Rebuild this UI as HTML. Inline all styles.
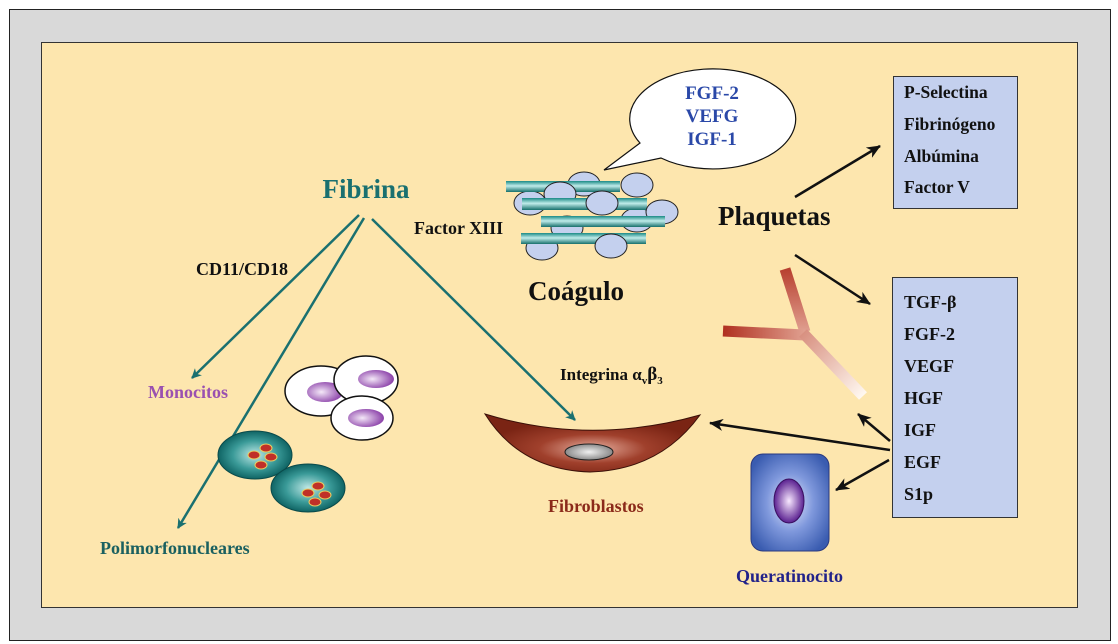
<!DOCTYPE html>
<html><head><meta charset="utf-8"><style>
html,body{margin:0;padding:0;background:#fff;}
svg{display:block;}
text{font-family:"Liberation Serif",serif;font-weight:bold;}
</style></head><body>
<svg width="1118" height="644" viewBox="0 0 1118 644" xmlns="http://www.w3.org/2000/svg">
<defs>
<radialGradient id="pmn" cx="50%" cy="50%" r="50%"><stop offset="0" stop-color="#bfe8e6"/><stop offset="0.6" stop-color="#3a9a98"/><stop offset="1" stop-color="#0f6464"/></radialGradient>
<radialGradient id="nuc" cx="40%" cy="50%" r="60%"><stop offset="0" stop-color="#f4e8f8"/><stop offset="1" stop-color="#8a3fa8"/></radialGradient>
<radialGradient id="fib" cx="50%" cy="60%" r="50%"><stop offset="0" stop-color="#e8b0a0"/><stop offset="0.5" stop-color="#a0402c"/><stop offset="1" stop-color="#7a2414"/></radialGradient>
<radialGradient id="fnuc" cx="50%" cy="50%" r="50%"><stop offset="0" stop-color="#f0f0f0"/><stop offset="1" stop-color="#8a8a8a"/></radialGradient>
<radialGradient id="ker" cx="50%" cy="50%" r="60%"><stop offset="0" stop-color="#e8ecff"/><stop offset="0.5" stop-color="#7f98dc"/><stop offset="1" stop-color="#3a5cb0"/></radialGradient>
<radialGradient id="kn" cx="50%" cy="50%" r="50%"><stop offset="0" stop-color="#f8e8ff"/><stop offset="1" stop-color="#5a2090"/></radialGradient>
<linearGradient id="bar" x1="0" y1="0" x2="0" y2="1"><stop offset="0" stop-color="#1a8a86"/><stop offset="0.45" stop-color="#c0ecea"/><stop offset="1" stop-color="#16706c"/></linearGradient>
<linearGradient id="yarm" x1="0" y1="0" x2="1" y2="0"><stop offset="0" stop-color="#b03020"/><stop offset="1" stop-color="#e0a090"/></linearGradient>
<linearGradient id="ystem" x1="0" y1="0" x2="1" y2="1"><stop offset="0" stop-color="#d89080"/><stop offset="1" stop-color="#fff8f0"/></linearGradient>
<linearGradient id="yup" x1="0" y1="0" x2="0" y2="1"><stop offset="0" stop-color="#b84030"/><stop offset="1" stop-color="#e0a090"/></linearGradient>
<marker id="ta" markerWidth="10" markerHeight="10" refX="9" refY="5" orient="auto" markerUnits="userSpaceOnUse"><path d="M0,0 L10,5 L0,10 L3,5 z" fill="#1a7070"/></marker>
<marker id="ba" markerWidth="14" markerHeight="12" refX="13" refY="6" orient="auto" markerUnits="userSpaceOnUse"><path d="M0,0 L14,6 L0,12 L4,6 z" fill="#111"/></marker>
</defs>
<rect x="9.5" y="9.5" width="1101" height="631" fill="#d9d9d9" stroke="#222"/>
<rect x="41.5" y="42.5" width="1036" height="565" fill="#fde6ae" stroke="#333"/>

<text x="366" y="198" font-size="27" fill="#1a7070" text-anchor="middle">Fibrina</text>
<g stroke="#1a7070" stroke-width="2.5" fill="none">
<line x1="359" y1="215" x2="192" y2="378" marker-end="url(#ta)"/>
<line x1="364" y1="218" x2="178" y2="528" marker-end="url(#ta)"/>
<line x1="372" y1="219" x2="575" y2="420" marker-end="url(#ta)"/>
</g>
<text x="196" y="275" font-size="18" fill="#111">CD11/CD18</text>
<text x="148" y="398" font-size="18" fill="#9a50b0">Monocitos</text>
<text x="100" y="554" font-size="18" fill="#1a6060">Polimorfonucleares</text>
<text x="414" y="234" font-size="18" fill="#111">Factor XIII</text>

<ellipse cx="321" cy="391" rx="36" ry="25" fill="#fff" stroke="#111" stroke-width="1.5"/>
<ellipse cx="325" cy="392" rx="18" ry="10" fill="url(#nuc)"/>
<ellipse cx="366" cy="380" rx="32" ry="24" fill="#fff" stroke="#111" stroke-width="1.5"/>
<ellipse cx="376" cy="379" rx="18" ry="9" fill="url(#nuc)"/>
<ellipse cx="362" cy="418" rx="31" ry="22" fill="#fff" stroke="#111" stroke-width="1.5"/>
<ellipse cx="366" cy="418" rx="18" ry="9" fill="url(#nuc)"/>

<g stroke="#0a4a4a" stroke-width="1">
<ellipse cx="255" cy="455" rx="37" ry="24" fill="url(#pmn)"/>
<ellipse cx="308" cy="488" rx="37" ry="24" fill="url(#pmn)"/>
</g>
<g fill="#c03028" stroke="#e8d060" stroke-width="1">
<ellipse cx="266" cy="448" rx="6" ry="4"/><ellipse cx="254" cy="455" rx="6" ry="4"/><ellipse cx="271" cy="457" rx="6" ry="4"/><ellipse cx="261" cy="465" rx="6" ry="4"/>
<ellipse cx="318" cy="486" rx="6" ry="4"/><ellipse cx="308" cy="493" rx="6" ry="4"/><ellipse cx="325" cy="495" rx="6" ry="4"/><ellipse cx="315" cy="502" rx="6" ry="4"/>
</g>

<g stroke="#222" stroke-width="1" fill="#c4d0ee">
<ellipse cx="584" cy="184" rx="16" ry="12"/>
<ellipse cx="530" cy="203" rx="16" ry="12"/>
<ellipse cx="637" cy="220" rx="16" ry="12"/>
<ellipse cx="567" cy="228" rx="16" ry="12"/>
<ellipse cx="542" cy="248" rx="16" ry="12"/>
</g>
<rect x="506" y="181" width="114" height="11" fill="url(#bar)"/>
<g stroke="#222" stroke-width="1" fill="#c4d0ee">
<ellipse cx="560" cy="194" rx="16" ry="12"/>
<ellipse cx="637" cy="185" rx="16" ry="12"/>
</g>
<rect x="522" y="198" width="125" height="12" fill="url(#bar)"/>
<g stroke="#222" stroke-width="1" fill="#c4d0ee">
<ellipse cx="602" cy="203" rx="16" ry="12"/>
<ellipse cx="662" cy="212" rx="16" ry="12"/>
</g>
<rect x="541" y="216" width="124" height="11" fill="url(#bar)"/>
<rect x="521" y="233" width="125" height="11" fill="url(#bar)"/>
<ellipse cx="611" cy="246" rx="16" ry="12" fill="#c4d0ee" stroke="#222"/>
<text x="528" y="300" font-size="27" fill="#111">Coágulo</text>

<path d="M604,170 L640,143 A83,50 0 1 1 661,158 Z" fill="#fff" stroke="#111" stroke-width="1.2"/>
<text x="712" y="99" font-size="19" fill="#2a48a8" text-anchor="middle">FGF-2</text>
<text x="712" y="122" font-size="19" fill="#2a48a8" text-anchor="middle">VEFG</text>
<text x="712" y="145" font-size="19" fill="#2a48a8" text-anchor="middle">IGF-1</text>

<text x="718" y="225" font-size="27" fill="#111">Plaquetas</text>
<g stroke="#111" stroke-width="2.5">
<line x1="795" y1="197" x2="880" y2="146" marker-end="url(#ba)"/>
<line x1="795" y1="255" x2="870" y2="304" marker-end="url(#ba)"/>
<line x1="890" y1="450" x2="710" y2="423" marker-end="url(#ba)"/>
<line x1="890" y1="441" x2="858" y2="414" marker-end="url(#ba)"/>
<line x1="889" y1="460" x2="836" y2="490" marker-end="url(#ba)"/>
</g>

<rect x="893.5" y="76.5" width="124" height="132" fill="#c4d0ee" stroke="#333"/>
<g font-size="17.5" fill="#111">
<text x="904" y="98">P-Selectina</text>
<text x="904" y="130">Fibrinógeno</text>
<text x="904" y="162">Albúmina</text>
<text x="904" y="193">Factor V</text>
</g>
<rect x="892.5" y="277.5" width="125" height="240" fill="#c4d0ee" stroke="#333"/>
<g font-size="18" fill="#111">
<text x="904" y="308">TGF-β</text>
<text x="904" y="340">FGF-2</text>
<text x="904" y="372">VEGF</text>
<text x="904" y="404">HGF</text>
<text x="904" y="436">IGF</text>
<text x="904" y="468">EGF</text>
<text x="904" y="500">S1p</text>
</g>

<line x1="785" y1="269" x2="805" y2="332" stroke="url(#yup)" stroke-width="11"/>
<line x1="723" y1="331" x2="805" y2="335" stroke="url(#yarm)" stroke-width="11"/>
<line x1="803" y1="333" x2="863" y2="396" stroke="url(#ystem)" stroke-width="11"/>

<path d="M485,414 Q590,446 700,415 Q660,470 590,472 Q520,470 485,414 Z" fill="url(#fib)" stroke="#3a1008" stroke-width="1"/>
<ellipse cx="589" cy="452" rx="24" ry="8" fill="url(#fnuc)" stroke="#222"/>
<text x="560" y="380" font-size="17" fill="#111">Integrina α<tspan font-size="11" dy="4">v</tspan><tspan dy="-4" font-size="19">β</tspan><tspan font-size="11" dy="4">3</tspan></text>
<text x="548" y="512" font-size="18" fill="#8b2a1a">Fibroblastos</text>

<rect x="751" y="454" width="78" height="97" rx="12" fill="url(#ker)" stroke="#2a3a80"/>
<ellipse cx="789" cy="501" rx="15" ry="22" fill="url(#kn)" stroke="#3a1060"/>
<text x="736" y="582" font-size="18" fill="#22228a">Queratinocito</text>
</svg>
</body></html>
